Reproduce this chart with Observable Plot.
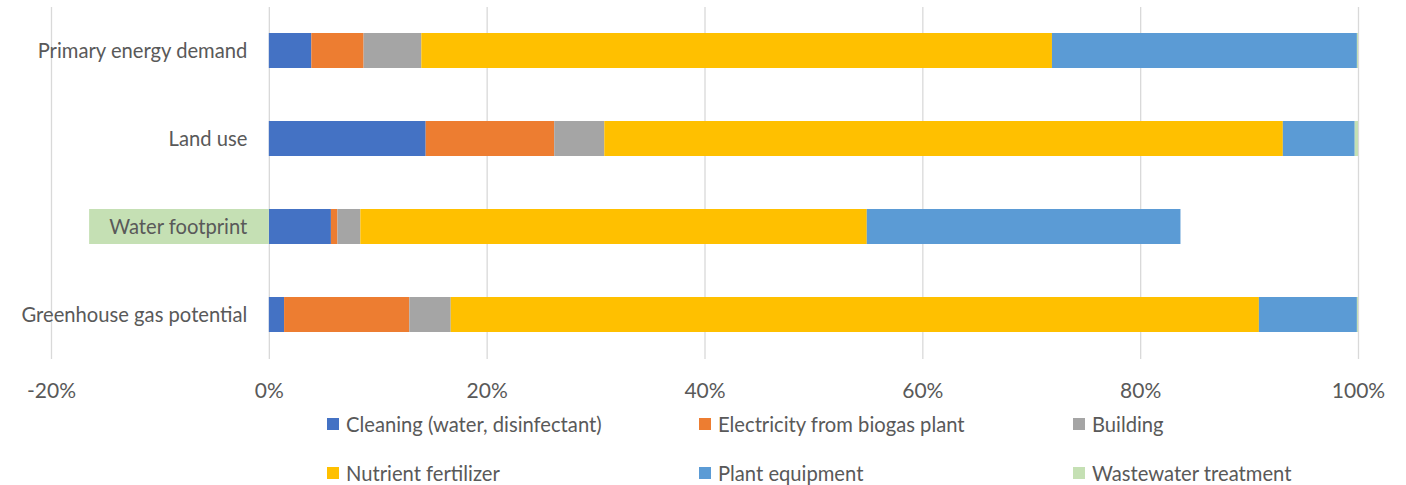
<!DOCTYPE html>
<html>
<head>
<meta charset="utf-8">
<script src="https://cdn.jsdelivr.net/npm/d3@7"></script>
<script src="https://cdn.jsdelivr.net/npm/@observablehq/plot@0.6"></script>
<style>
  body { margin: 0; background: #fff; font-family: Lato, "Open Sans", sans-serif; }
  #chart { position: relative; width: 1406px; height: 485px; }
  .legend { position: absolute; left: 0; top: 410px; width: 1406px; }
  .item { position: absolute; display: flex; align-items: center; height: 30px; font-size: 20.2px; color: #595959; white-space: nowrap; }
  .sw { width: 12px; height: 12px; margin-right: 7px; }
</style>
</head>
<body>
<div id="chart"></div>
<script>
// Impact categories, top to bottom
const categories = ["Primary energy demand", "Land use", "Water footprint", "Greenhouse gas potential"];

// Contribution components (legend order)
const components = [
  "Cleaning (water, disinfectant)",
  "Electricity from biogas plant",
  "Building",
  "Nutrient fertilizer",
  "Plant equipment",
  "Wastewater treatment"
];
const colors = ["#4472C4", "#ED7D31", "#A5A5A5", "#FFC000", "#5B9BD5", "#C5E0B4"];

// Shares in percent, one value per category
const cleaning    = [3.9, 14.4, 5.7, 1.4];
const electricity = [4.8, 11.8, 0.6, 11.5];
const building    = [5.3, 4.6, 2.1, 3.8];
const fertilizer  = [57.9, 62.3, 46.5, 74.2];
const equipment   = [28.0, 6.6, 28.8, 9.0];
const wastewater  = [0.1, 0.3, -16.5, 0.1];

const xTicks = [-20, 0, 20, 40, 60, 80, 100];

const series = [cleaning, electricity, building, fertilizer, equipment, wastewater];
const rows = [];
components.forEach((c, i) => {
  categories.forEach((cat, j) => rows.push({category: cat, component: c, value: series[i][j]}));
});

const plot = Plot.plot({
  width: 1406,
  height: 410,
  marginTop: 7,
  marginBottom: 51,
  marginLeft: 51,
  marginRight: 48,
  style: {fontFamily: "Lato, 'Open Sans', sans-serif", color: "#595959"},
  x: {domain: [-20, 100], axis: null},
  y: {domain: categories, paddingInner: 0.6, paddingOuter: 0.3, axis: null},
  color: {domain: components, range: colors},
  marks: [
    Plot.gridX(xTicks, {stroke: "#D9D9D9", strokeOpacity: 1, strokeWidth: 1.3}),
    Plot.axisX(xTicks, {tickSize: 0, tickPadding: 24, fontSize: 21, fill: "#595959", label: null, tickFormat: d => d + "%"}),
    Plot.barX(rows, {x: "value", y: "category", fill: "component", order: components}),
    Plot.text(categories, {x: 0, y: d => d, dx: -22, dy: 1, textAnchor: "end", fontSize: 20.2, fill: "#595959"})
  ]
});
document.getElementById("chart").appendChild(plot);

// Legend below the plot, three columns by two rows
const legend = document.createElement("div");
legend.className = "legend";
const colX = [327, 699, 1073];
const rowY = [-1, 48];
components.forEach((c, i) => {
  const item = document.createElement("div");
  item.className = "item";
  item.style.left = colX[i % 3] + "px";
  item.style.top = rowY[Math.floor(i / 3)] + "px";
  const sw = document.createElement("span");
  sw.className = "sw";
  sw.style.background = colors[i];
  item.appendChild(sw);
  item.appendChild(document.createTextNode(c));
  legend.appendChild(item);
});
document.getElementById("chart").appendChild(legend);
</script>
</body>
</html>
